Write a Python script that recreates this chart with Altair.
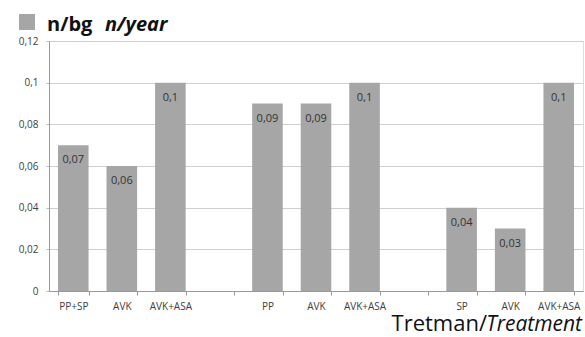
import altair as alt
import pandas as pd

# slot labels along the x axis (blank slots separate the groups)
labels = ["PP+SP", "AVK", "AVK+ASA", "", "PP", "AVK", "AVK+ASA", "", "SP", "AVK", "AVK+ASA"]
values = [0.07, 0.06, 0.1, None, 0.09, 0.09, 0.1, None, 0.04, 0.03, 0.1]
y_ticks = [0, 0.02, 0.04, 0.06, 0.08, 0.1, 0.12]

positions = list(range(len(labels)))
df = pd.DataFrame(
    [{"pos": p, "value": v} for p, v in zip(positions, values) if v is not None]
)
df["txt"] = df["value"].map(lambda v: f"{v:g}".replace(".", ","))

label_array = "[" + ",".join("'" + l + "'" for l in labels) + "]"
FONT = "Open Sans"
BAR = "#a6a6a6"
TXT = "#404040"

x_enc = alt.X(
    "pos:O",
    scale=alt.Scale(domain=positions, paddingInner=0.37, paddingOuter=0.185),
    axis=alt.Axis(
        title=None,
        labelExpr=label_array + "[datum.value]",
        labelAngle=0,
        labelFont=FONT,
        labelFontSize=10,
        labelColor=TXT,
        labelPadding=6,
        tickBand="extent",
        tickSize=4,
        tickColor="#999999",
        domainColor="#999999",
        grid=False,
    ),
)
y_enc = alt.Y(
    "value:Q",
    scale=alt.Scale(domain=[0, 0.12], nice=False),
    axis=alt.Axis(
        title=None,
        values=y_ticks,
        labelExpr="replace(format(datum.value, '.2~f'), '.', ',')",
        labelFont=FONT,
        labelFontSize=10,
        labelColor=TXT,
        labelPadding=8,
        tickSize=3,
        tickColor="#bbbbbb",
        domainColor="#999999",
        gridColor="#cfcfcf",
    ),
)

base = alt.Chart(df)
bars = base.mark_bar(color=BAR).encode(x=x_enc, y=y_enc)
texts = base.mark_text(
    baseline="middle", dy=15, font=FONT, fontSize=11, color="#333333"
).encode(x=alt.X("pos:O"), y=alt.Y("value:Q"), text="txt:N")

one = pd.DataFrame({"a": [0]})
ann = alt.Chart(one)
square = ann.mark_rect(color=BAR).encode(
    x=alt.value(-30), x2=alt.value(-14), y=alt.value(-27), y2=alt.value(-11)
)
t1 = ann.mark_text(
    align="left", baseline="alphabetic", font=FONT, fontSize=20, fontWeight="bold",
    color="#111111", text="n/bg",
).encode(x=alt.value(-2), y=alt.value(-10))
t2 = ann.mark_text(
    align="left", baseline="alphabetic", font=FONT, fontSize=20, fontWeight="bold",
    fontStyle="italic", color="#111111", text="n/year",
).encode(x=alt.value(56), y=alt.value(-10))
xt1 = ann.mark_text(
    align="right", baseline="alphabetic", font=FONT, fontSize=22,
    color="#111111", text="Tretman/",
).encode(x=alt.value(438), y=alt.value(290))
xt2 = ann.mark_text(
    align="right", baseline="alphabetic", font=FONT, fontSize=21,
    fontStyle="italic", color="#111111", text="Treatment",
).encode(x=alt.value(533), y=alt.value(290))

chart = (
    alt.layer(bars, texts, square, t1, t2, xt1, xt2)
    .properties(
        width=534,
        height=250,
        autosize=alt.AutoSizeParams(type="none"),
        padding={"left": 49, "top": 41, "right": 2, "bottom": 46},
    )
    .configure_view(stroke=None)
    .configure(background="white")
)

chart.save("out.html", embed_options={"renderer": "svg", "actions": False})
